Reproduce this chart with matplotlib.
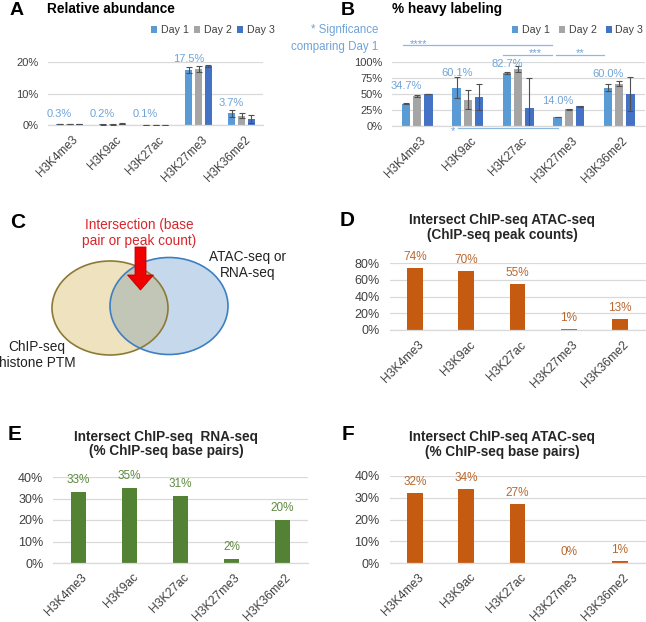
import matplotlib
matplotlib.use('Agg')
import matplotlib.pyplot as plt
from matplotlib.patches import Ellipse, Patch, FancyArrow
from matplotlib.transforms import ScaledTranslation
import numpy as np

plt.rcParams['font.family'] = ['Liberation Sans', 'DejaVu Sans']

# ---------------- data ----------------
categories = ['H3K4me3', 'H3K9ac', 'H3K27ac', 'H3K27me3', 'H3K36me2']
days = ['Day 1', 'Day 2', 'Day 3']

abund_day1 = [0.3, 0.2, 0.1, 17.5, 3.7]
abund_day2 = [0.3, 0.2, 0.1, 17.7, 3.0]
abund_day3 = [0.3, 0.4, 0.1, 18.7, 1.9]
abund_err1 = [0.05, 0.05, 0.03, 0.9, 1.1]
abund_err2 = [0.05, 0.05, 0.03, 1.0, 0.8]
abund_err3 = [0.05, 0.1, 0.03, 0.3, 1.2]

heavy_day1 = [34.7, 60.1, 82.7, 14.0, 60.0]
heavy_day2 = [47.0, 41.0, 89.5, 26.5, 66.0]
heavy_day3 = [50.0, 45.0, 27.5, 31.0, 50.0]
heavy_err1 = [0.8, 17.0, 1.0, 0.5, 5.5]
heavy_err2 = [1.5, 15.0, 5.0, 0.8, 4.0]
heavy_err3 = [0.5, 20.5, 47.0, 0.8, 27.0]

atac_peak_pct = [74, 70, 55, 0.8, 13]
rna_bp_pct = [33, 35, 31, 2, 20]
atac_bp_pct = [32, 34, 27, 0.2, 0.9]

sig_marks = ['****', '***', '**', '*']

# ---------------- style ----------------
C_D1, C_D2, C_D3 = '#5B9BD5', '#A5A5A5', '#4472C4'
C_LBL_BLUE = '#6FA3D8'
C_ORANGE, C_ORANGE_TXT = '#C55A11', '#B8682F'
C_GREEN, C_GREEN_TXT = '#548235', '#5E8A40'
C_TICK = '#404040'
C_GRID = '#D9D9D9'

W, H = 646, 622
fig = plt.figure(figsize=(W / 100, H / 100), dpi=100)

ov = fig.add_axes([0, 0, 1, 1])
ov.set_xlim(0, W)
ov.set_ylim(H, 0)
ov.axis('off')
ov.set_zorder(0)


def place(l, t, r, b):
    ax = fig.add_axes([l / W, 1 - b / H, (r - l) / W, (b - t) / H])
    ax.set_zorder(2)
    ax.patch.set_alpha(0)
    return ax


def style_axes(ax, ylim, yticks, tick_fs, xtick_fs, pad_pt=6.5, dx_px=2.5):
    ax.set_ylim(*ylim)
    ax.set_xlim(-0.5, len(categories) - 0.5)
    ax.set_yticks(yticks)
    ax.set_yticklabels([f'{t}%' for t in yticks], fontsize=tick_fs, color=C_TICK)
    ax.set_xticks(range(len(categories)))
    ax.set_xticklabels(categories, rotation=45, ha='right', va='top',
                       rotation_mode='anchor', fontsize=xtick_fs, color=C_TICK)
    ax.tick_params(axis='both', length=0)
    ax.tick_params(axis='y', pad=7)
    ax.tick_params(axis='x', pad=pad_pt)
    off = ScaledTranslation(dx_px / 100, 0, fig.dpi_scale_trans)
    for lbl in ax.get_xticklabels():
        lbl.set_transform(lbl.get_transform() + off)
    for s in ['top', 'right', 'left']:
        ax.spines[s].set_visible(False)
    ax.spines['bottom'].set_color(C_GRID)
    ax.spines['bottom'].set_linewidth(0.9)
    ax.yaxis.grid(True, color=C_GRID, lw=0.9)
    ax.set_axisbelow(True)


x = np.arange(len(categories))
err_kw = dict(fmt='none', ecolor='#505050', elinewidth=0.8, capsize=2, capthick=0.8, zorder=3)

# ---------------- Panel A ----------------
axA = place(48, 62, 263, 125)
style_axes(axA, (0, 20), [0, 10, 20], 8, 8.5)
pitch, bw = 0.23, 0.175
for k, (vals, errs, col) in enumerate([(abund_day1, abund_err1, C_D1),
                                        (abund_day2, abund_err2, C_D2),
                                        (abund_day3, abund_err3, C_D3)]):
    xs = x + (k - 1) * pitch
    axA.bar(xs, vals, bw, color=col, zorder=2)
    axA.errorbar(xs, vals, yerr=errs, **err_kw)
for i, v in enumerate(abund_day1):
    axA.annotate(f'{v:.1f}%', xy=(i - pitch, v), xytext=(0, 5.4), textcoords='offset points',
                 ha='center', va='baseline', fontsize=8, color=C_LBL_BLUE)

# ---------------- Panel B ----------------
axB = place(392, 62, 644.5, 126)
style_axes(axB, (0, 100), [0, 25, 50, 75, 100], 8, 8.5)
pitch, bw = 0.22, 0.165
for k, (vals, errs, col) in enumerate([(heavy_day1, heavy_err1, C_D1),
                                        (heavy_day2, heavy_err2, C_D2),
                                        (heavy_day3, heavy_err3, C_D3)]):
    xs = x + (k - 1) * pitch
    axB.bar(xs, vals, bw, color=col, zorder=2)
    axB.errorbar(xs, vals, yerr=errs, **err_kw)
b_lbl_off = [10.8, 8.6, 4.3, 9.4, 7.6]
for i, v in enumerate(heavy_day1):
    axB.annotate(f'{v:.1f}%', xy=(i - pitch, v), xytext=(0, b_lbl_off[i]), textcoords='offset points',
                 ha='center', va='baseline', fontsize=8, color=C_LBL_BLUE)

# significance lines (x in category units, y in % units)
sig_lines = [(-0.29, 2.66, 127), (1.7, 2.67, 111), (2.75, 3.7, 111), (0.80, 2.79, -3.5)]
sig_text_pos = [(0.03, 124), (2.33, 109), (3.22, 109), (0.70, -13.4)]
for (x0, x1, yy), (tx, ty), m in zip(sig_lines, sig_text_pos, sig_marks):
    axB.plot([x0, x1], [yy, yy], color='#8DB8E2', lw=0.9, clip_on=False, zorder=1)
    axB.text(tx, ty, m, ha='center', va='baseline', fontsize=8, color=C_LBL_BLUE, clip_on=False)

ov.text(378, 33, '* Signficance', ha='right', va='baseline', fontsize=8.3, color=C_LBL_BLUE)
ov.text(378, 50, 'comparing Day 1', ha='right', va='baseline', fontsize=8.3, color=C_LBL_BLUE)

# legends
handles = [Patch(facecolor=c, edgecolor='none') for c in (C_D1, C_D2, C_D3)]
leg_kw = dict(ncol=3, frameon=False, fontsize=7.7, handlelength=0.57, handleheight=0.57,
              handletextpad=0.35, borderpad=0, borderaxespad=0, loc='center left',
              labelcolor=C_TICK)
fig.legend(handles, days, bbox_to_anchor=(151 / W, 1 - 30 / H), columnspacing=0.5, **leg_kw)
fig.legend(handles, days, bbox_to_anchor=(512 / W, 1 - 30 / H), columnspacing=0.85, **leg_kw)

# ---------------- Panel D ----------------
axD = place(389.5, 263, 645.5, 330)
style_axes(axD, (0, 80), [0, 20, 40, 60, 80], 9, 8.7)
axD.bar(x, atac_peak_pct, 0.31, color=C_ORANGE, zorder=2)
for i, v in enumerate(atac_peak_pct):
    axD.annotate(f'{v:.0f}%', xy=(i, v), xytext=(0, 5.8), textcoords='offset points',
                 ha='center', va='baseline', fontsize=8.5, color=C_ORANGE_TXT)

# ---------------- Panel E ----------------
axE = place(53, 477, 308, 563)
style_axes(axE, (0, 40), [0, 10, 20, 30, 40], 9, 8.7, pad_pt=6)
axE.bar(x, rna_bp_pct, 0.31, color=C_GREEN, zorder=2)
for i, v in enumerate(rna_bp_pct):
    axE.annotate(f'{v:.0f}%', xy=(i, v), xytext=(0, 6.5), textcoords='offset points',
                 ha='center', va='baseline', fontsize=8.5, color=C_GREEN_TXT)

# ---------------- Panel F ----------------
axF = place(389.5, 476, 645.5, 563)
style_axes(axF, (0, 40), [0, 10, 20, 30, 40], 9, 8.7, pad_pt=6)
axF.bar(x, atac_bp_pct, 0.31, color=C_ORANGE, zorder=2)
for i, v in enumerate(atac_bp_pct):
    axF.annotate(f'{v:.0f}%', xy=(i, v), xytext=(0, 5.8), textcoords='offset points',
                 ha='center', va='baseline', fontsize=8.5, color=C_ORANGE_TXT)

# ---------------- Panel C (Venn) ----------------
left_e = dict(xy=(110, 308), width=116, height=94)
right_e = dict(xy=(169, 306), width=118, height=97)
e1 = Ellipse(**left_e, facecolor='#EEE2BF', edgecolor='none', zorder=1)
e2 = Ellipse(**right_e, facecolor='#C6D9EC', edgecolor='none', zorder=1)
ov.add_patch(e1)
ov.add_patch(e2)
e3 = Ellipse(**right_e, facecolor='#C2C6B6', edgecolor='none', zorder=2)
ov.add_patch(e3)
e3.set_clip_path(Ellipse(**left_e, transform=ov.transData))
ov.add_patch(Ellipse(**left_e, facecolor='none', edgecolor='#8C7A34', lw=1.2, zorder=3))
ov.add_patch(Ellipse(**right_e, facecolor='none', edgecolor='#3E7FC1', lw=1.2, zorder=3))
ov.add_patch(FancyArrow(140.5, 247, 0, 43, width=11, head_width=26, head_length=15,
                        length_includes_head=True, facecolor='#F00000', edgecolor='#C00000',
                        lw=0.6, zorder=4))
ov.text(139, 229, 'Intersection (base', ha='center', va='baseline', fontsize=9.8, color='#D9262B')
ov.text(139, 244.5, 'pair or peak count)', ha='center', va='baseline', fontsize=9.8, color='#D9262B')
ov.text(247.5, 261.5, 'ATAC-seq or', ha='center', va='baseline', fontsize=9.8, color='#222222')
ov.text(247.5, 276.5, 'RNA-seq', ha='center', va='baseline', fontsize=9.8, color='#222222')
ov.text(37, 350.5, 'ChIP-seq', ha='center', va='baseline', fontsize=9.8, color='#222222')
ov.text(37, 367, 'histone PTM', ha='center', va='baseline', fontsize=9.8, color='#222222')

# ---------------- panel letters & titles ----------------
for s, px, py, fs in [('A', 10, 15, 14), ('B', 341, 15, 14), ('C', 10, 228, 15),
                      ('D', 340, 226.5, 15), ('E', 8, 439.5, 15), ('F', 342, 439.5, 15)]:
    ov.text(px, py, s, ha='left', va='baseline', fontsize=fs, fontweight='bold', color='black')

ov.text(47, 13, 'Relative abundance', ha='left', va='baseline', fontsize=9.8, fontweight='bold')
ov.text(392, 13, '% heavy labeling', ha='left', va='baseline', fontsize=9.8, fontweight='bold')
for txt, cx, by in [('Intersect ChIP-seq ATAC-seq', 502, 224), ('(ChIP-seq peak counts)', 502, 238.5),
                    ('Intersect ChIP-seq  RNA-seq', 166, 440.7), ('(% ChIP-seq base pairs)', 166, 455.5),
                    ('Intersect ChIP-seq ATAC-seq', 502, 441), ('(% ChIP-seq base pairs)', 502, 456)]:
    ov.text(cx, by, txt, ha='center', va='baseline', fontsize=9.8, fontweight='bold', color='#262626')

fig.savefig('out.png', dpi=100)
